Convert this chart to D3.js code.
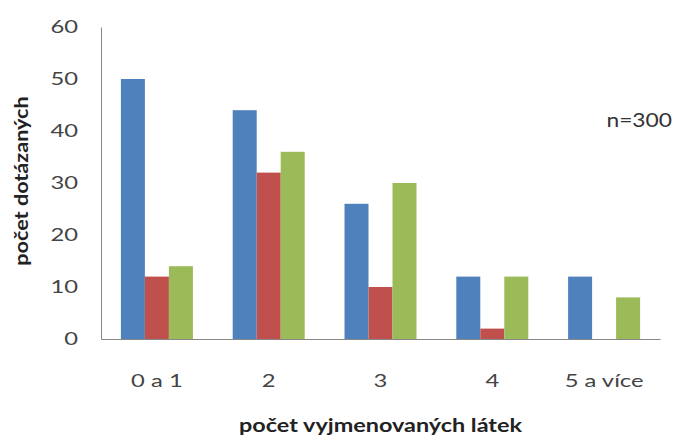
<!DOCTYPE html>
<html>
<head>
<meta charset="utf-8">
<script src="https://cdn.jsdelivr.net/npm/d3@7"></script>
<style>
  body { margin: 0; background: #fff; }
  svg { display: block; font-family: Lato, "Open Sans", sans-serif; }
</style>
</head>
<body>
<svg></svg>
<script>
var categories = ["0 a 1", "2", "3", "4", "5 a více"];
var seriesA = [50, 44, 26, 12, 12];
var seriesB = [12, 32, 10, 2, 0];
var seriesC = [14, 36, 30, 12, 8];
var yTicks = [0, 10, 20, 30, 40, 50, 60];

var colors = ["#4F81BD", "#C0504D", "#9BBB59"];
var allSeries = [seriesA, seriesB, seriesC];

var svgWidth = 676, svgHeight = 438;
var margin = {left: 101, right: 16, top: 27, bottom: 99};

var svg = d3.select("svg")
    .attr("width", svgWidth)
    .attr("height", svgHeight);

var x = d3.scaleBand()
    .domain(categories)
    .range([margin.left, svgWidth - margin.right]);

var y = d3.scaleLinear()
    .domain([0, 60])
    .range([svgHeight - margin.bottom, margin.top]);

// each group is 3 bars wide, 24px each, centred in its band
var barWidth = 24;
var inner = d3.scaleBand()
    .domain([0, 1, 2])
    .range([0, barWidth * 3]);

categories.forEach(function (c, i) {
    var g = svg.append("g")
        .attr("transform", "translate(" + (x(c) + x.bandwidth() / 2 - barWidth * 1.5) + ",0)");
    g.selectAll("rect")
        .data(allSeries.map(function (s) { return s[i]; }))
        .enter()
        .append("rect")
        .attr("x", function (d, j) { return inner(j); })
        .attr("y", function (d) { return y(d); })
        .attr("width", inner.bandwidth())
        .attr("height", function (d) { return y(0) - y(d); })
        .attr("fill", function (d, j) { return colors[j]; });
});

// axes (the source picture is stretched sideways, so text gets a scaleX)
var yAxis = svg.append("g")
    .attr("transform", "translate(" + margin.left + ",0)")
    .call(d3.axisLeft(y).tickValues(yTicks).tickSize(0));
yAxis.select(".domain").attr("stroke", "#888");
yAxis.selectAll("text")
    .attr("x", 0)
    .attr("transform", "translate(-23,0) scale(1.4,1)")
    .attr("font-size", 17).attr("fill", "#444")
    .attr("font-family", "Lato, sans-serif");

var xAxis = svg.append("g")
    .attr("transform", "translate(0," + y(0) + ")")
    .call(d3.axisBottom(x).tickSize(0).tickPadding(36));
xAxis.select(".domain").attr("stroke", "#888");
xAxis.selectAll("text")
    .attr("transform", "scale(1.4,1)")
    .attr("x", 0)
    .attr("font-size", 17).attr("fill", "#444")
    .attr("font-family", "Lato, sans-serif");
xAxis.selectAll(".tick").each(function () {
    // keep scaled label centred on its tick
    d3.select(this).select("text").attr("x", 0);
});

// titles
svg.append("text")
    .attr("transform", "translate(28,181) rotate(-90) scale(1.2,1)")
    .attr("text-anchor", "middle")
    .attr("font-size", 18)
    .attr("font-weight", "bold")
    .attr("fill", "#222")
    .text("počet dotázaných");

svg.append("text")
    .attr("transform", "translate(" + ((margin.left + svgWidth - margin.right) / 2) + ",432) scale(1.3,1)")
    .attr("text-anchor", "middle")
    .attr("font-size", 18)
    .attr("font-weight", "bold")
    .attr("fill", "#222")
    .text("počet vyjmenovaných látek");

svg.append("text")
    .attr("transform", "translate(672,127) scale(1.2,1)")
    .attr("text-anchor", "end")
    .attr("font-size", 19)
    .attr("fill", "#333")
    .text("n=300");
</script>
</body>
</html>
